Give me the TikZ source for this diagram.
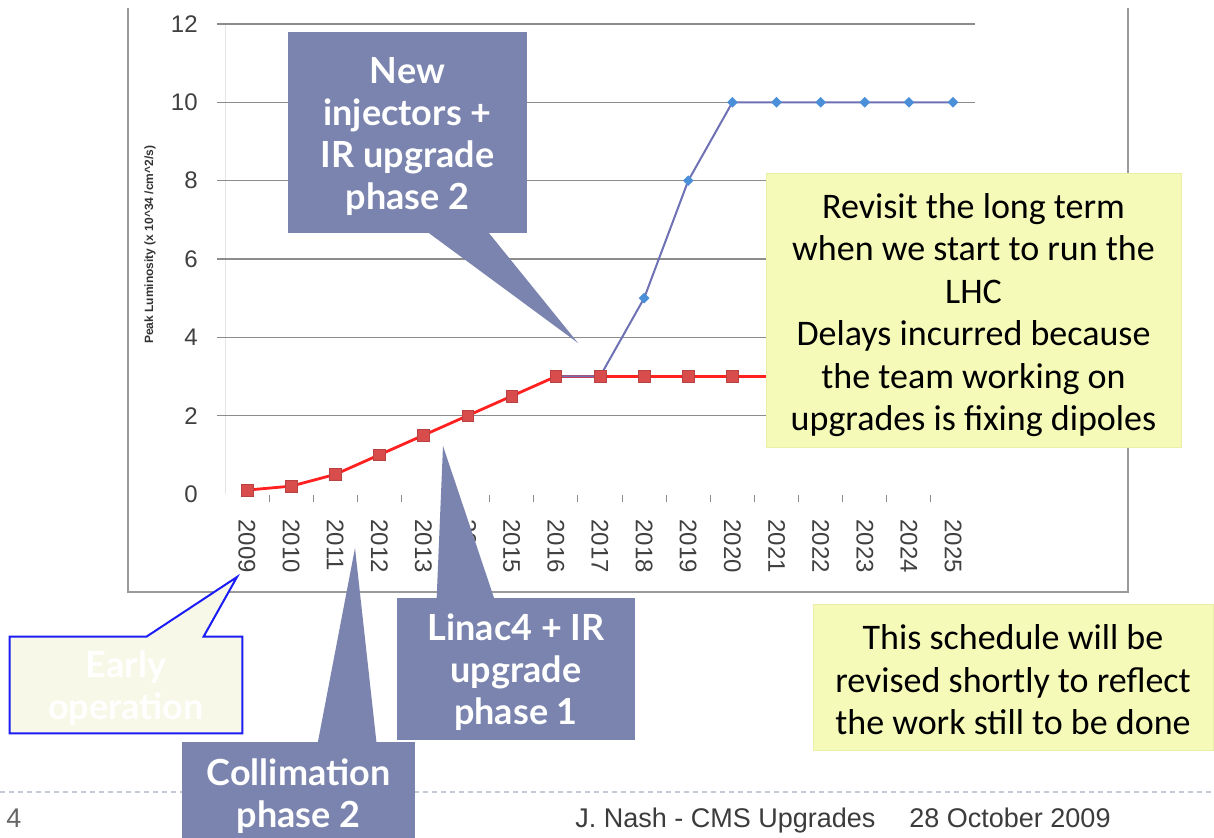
\documentclass[tikz,border=0pt]{standalone}
\usepackage{fontspec}
\setmainfont{Lato}
\newfontfamily\notefont{Carlito}
\newfontfamily\chartfont{Liberation Sans}
\usepackage{tikz}
\usetikzlibrary{calc,shapes.geometric}
\definecolor{slate}{HTML}{7A84AE}
\definecolor{noteyellow}{HTML}{F5FAB8}
\definecolor{noteedge}{HTML}{E9EFA6}
\definecolor{cream}{HTML}{F8F8E8}
\definecolor{earlyblue}{HTML}{1C1CF5}
\definecolor{gridgray}{HTML}{8C8C8C}
\definecolor{framegray}{HTML}{9A9A9A}
\definecolor{redline}{HTML}{FF2020}
\definecolor{redmark}{HTML}{D94C4C}
\definecolor{blueline}{HTML}{6E72B5}
\definecolor{bluemark}{HTML}{4A8FD8}
\definecolor{footgray}{HTML}{3C3C3C}
\definecolor{dashgray}{HTML}{C2CAD6}
\newcommand{\drop}[1]{\rule{0pt}{#1}}

\begin{document}
\begin{tikzpicture}[x=0.5pt,y=-0.5pt,
  slatebox/.style={fill=slate,inner sep=0pt,text=white,align=center,font=\fontsize{18}{21}\selectfont\bfseries},
  notebox/.style={fill=noteyellow,draw=noteedge,line width=0.4pt,inner sep=0pt,align=center,font=\notefont\fontsize{18}{21.2}\selectfont},
  gridline/.style={draw=gridgray,line width=0.75pt},
  yearlbl/.style={font=\chartfont\fontsize{12}{12}\selectfont,text=black!75,rotate=-90,anchor=west,inner sep=0pt},
  vallbl/.style={font=\chartfont\fontsize{12}{12}\selectfont,text=black!75,anchor=east,inner sep=0pt},
  redsq/.style={fill=redmark,draw=redmark!85!black,line width=0.3pt,minimum size=5.8pt,inner sep=0pt},
  bluedia/.style={diamond,fill=bluemark,minimum size=5.5pt,inner sep=0pt},
  footer/.style={font=\chartfont\fontsize{13.5}{14}\selectfont,text=footgray,anchor=base west,inner sep=0pt}]
  \useasboundingbox (0,0) rectangle (1214,838);
  \clip (0,0) rectangle (1214,838);
  \fill[white] (0,0) rectangle (1214,838);

  % chart frame
  \draw[framegray,line width=0.9pt] (128,8) -- (128,592) -- (1128,592) -- (1128,8);
  \draw[black!10,line width=0.5pt] (225,24) -- (225,494);

  \begin{scope}[shift={(247,494)}]
  \begin{scope}[x=22.0625pt,y=19.585pt]
    \foreach \v in {2,4,...,12} \draw[gridline] (-0.68,\v) -- (16.5,\v);
    \foreach \v in {0,2,...,12} \node[vallbl] (val\v) at (-1.11,\v) {\v};
    \foreach \i in {0,...,15} \draw[black!45,line width=0.5pt] (\i+0.5,-0.03) -- (\i+0.5,-0.2);
    \foreach \yr [count=\i from 0] in {2009,...,2025} \node[yearlbl] (yr\yr) at (\i,-0.64) {\yr};
    \node[font=\chartfont\bfseries\fontsize{6}{6}\selectfont,rotate=90,text=black!80] (ytitle) at (-2.2,6.36) {Peak Luminosity (x 10\textasciicircum 34 /cm\textasciicircum 2/s)};
    % red = present plan, blue = upgrade path
    \foreach \v [count=\i from 0] in {0.1,0.2,0.5,1,1.5,2,2.5,3,3,3,3,3,3,3,3,3,3} \coordinate (r\i) at (\i,\v);
    \foreach \v [count=\i from 7] in {3,3,5,8,10,10,10,10,10,10} \coordinate (b\i) at (\i,\v);
    \draw[redline,line width=1.4pt] (r0) \foreach \i in {1,...,16} {-- (r\i)};
    \draw[blueline,line width=1pt] (b7) \foreach \i in {8,...,16} {-- (b\i)};
    \foreach \i in {0,...,16} \node[redsq] (rm\i) at (r\i) {};
    \foreach \i in {9,...,16} \node[bluedia] (bm\i) at (b\i) {};
  \end{scope}
  \end{scope}

  % footer
  \draw[dashgray,line width=0.8pt,dash pattern=on 2.5pt off 2pt] (0,792) -- (1214,792);
  \node[footer,text=black!60] (pagenum) at (6,827) {4};
  \node[footer] (credit) at (575,827) {J. Nash - CMS Upgrades};
  \node[footer] (talkdate) at (909,827) {28 October 2009};

  % callouts
  \node[slatebox,minimum width=119.5pt,minimum height=100.5pt] (newinj) at (407.5,132.5) {\drop{17pt}New\\injectors +\\IR upgrade\\phase 2};
  \coordinate (newinjtip) at (578,343);
  \fill[slate] ($(newinj.south west)+(139,-2)$) -- (newinjtip) -- ($(newinj.south west)+(200,-2)$) -- cycle;

  \node[slatebox,minimum width=119pt,minimum height=71pt] (linac) at (516,669) {\drop{17pt}Linac4 + IR\\upgrade\\phase 1};
  \coordinate (linactip) at (443,446);
  \fill[slate] ($(linac.north west)+(40,2)$) -- (linactip) -- ($(linac.north west)+(98,2)$) -- cycle;

  \node[slatebox,minimum width=116.5pt,minimum height=51pt] (collim) at (298.5,793) {\drop{16.5pt}Collimation\\phase 2};
  \coordinate (collimtip) at (355,548);
  \fill[slate] ($(collim.north west)+(136,2)$) -- (collimtip) -- ($(collim.north west)+(195,2)$) -- cycle;

  \node[fill=cream,inner sep=0pt,minimum width=116pt,minimum height=48pt,text=white,align=center,
    font=\fontsize{18}{21}\selectfont\bfseries] (early) at (126,685) {\drop{17pt}Early\\operation};
  \coordinate (earlytip) at (237,577);
  \fill[cream] ($(early.north west)+(137,2)$) -- (earlytip) -- ($(early.north west)+(194,2)$) -- cycle;
  \draw[earlyblue,line width=1pt] (early.north west) -- ($(early.north west)+(137,0)$) -- (earlytip) -- ($(early.north west)+(194,0)$) -- (early.north east) -- (early.south east) -- (early.south west) -- cycle;

  \node[notebox,minimum width=207.5pt,minimum height=137pt] (revisit) at (973.5,310) {\drop{17.5pt}Revisit the long term\\when we start to run the\\LHC\\Delays incurred because\\the team working on\\upgrades is fixing dipoles};
  \node[notebox,minimum width=200pt,minimum height=73pt] (schedule) at (1013,677) {\drop{15.5pt}This schedule will be\\revised shortly to reflect\\the work still to be done};
\end{tikzpicture}
\end{document}
